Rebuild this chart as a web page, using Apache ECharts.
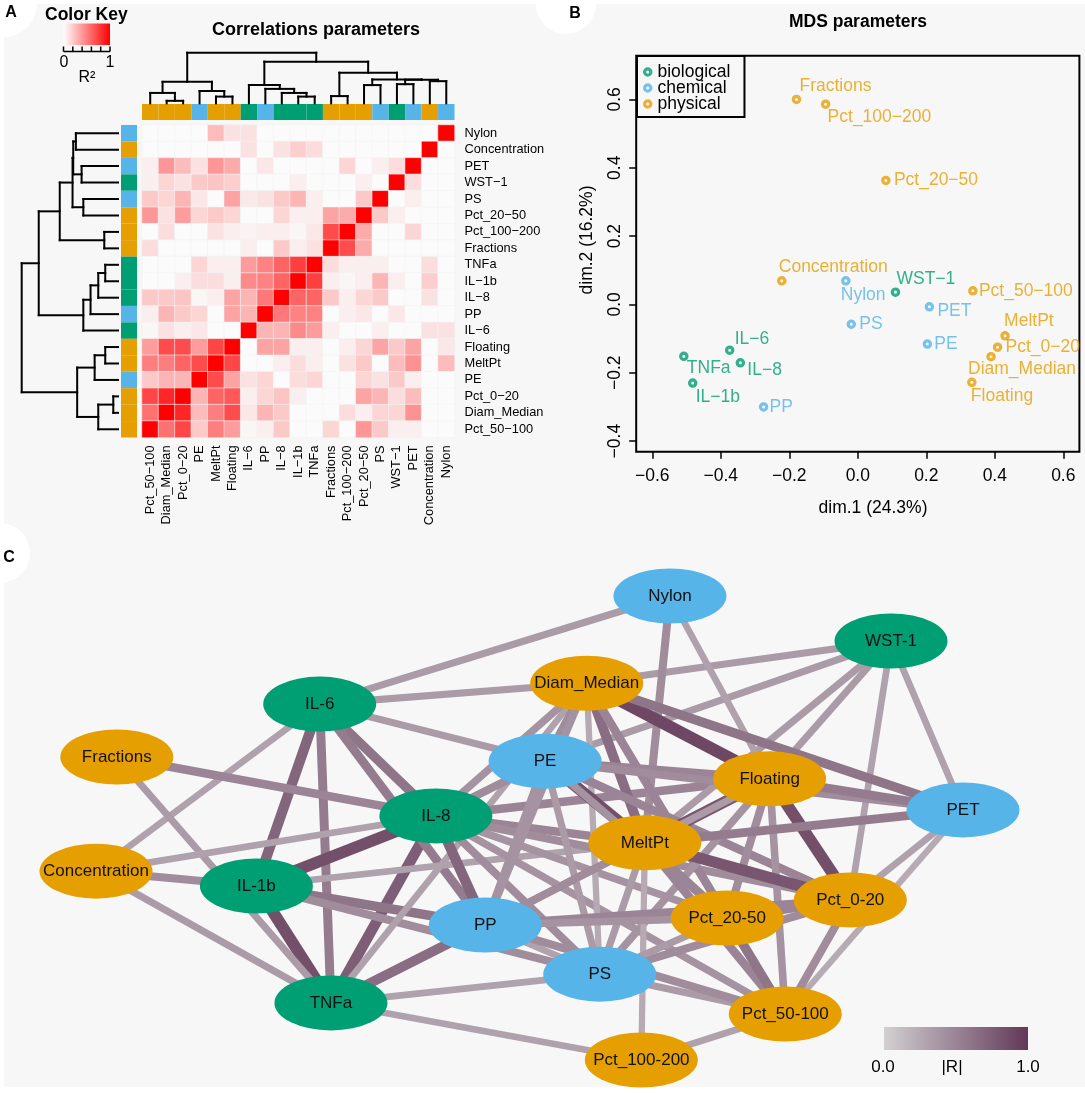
<!DOCTYPE html>
<html><head><meta charset="utf-8">
<script src="https://cdn.jsdelivr.net/npm/echarts@6/dist/echarts.min.js"></script>
<style>html,body{margin:0;padding:0;background:#fff;}#c{width:1085px;height:1093px;}</style>
</head><body><div id="c"></div>
<script>
// ---------------- DATA ----------------
const variables = ['Nylon','Concentration','PET','WST-1','PS','Pct_20-50','Pct_100-200','Fractions','TNFa','IL-1b','IL-8','PP','IL-6','Floating','MeltPt','PE','Pct_0-20','Diam_Median','Pct_50-100'];
const variableGroup = ['chemical','physical','chemical','biological','chemical','physical','physical','physical','biological','biological','biological','chemical','biological','physical','physical','chemical','physical','physical','physical'];
const groups = ['biological','chemical','physical'];
const columnOrder = variables.slice().reverse();

// R² values: rows = variables (top→bottom), columns = columnOrder (left→right)
const r2 = [
 [0,0,0,0,0.25,0.1,0.1,0,0,0,0,0,0,0,0,0,0,0,1],
 [0,0,0,0,0,0,0.1,0,0.1,0.18,0.12,0,0,0,0,0,0,1,0],
 [0.05,0.4,0.25,0.1,0.4,0.32,0,0.08,0,0,0,0,0.15,0,0.05,0.12,1,0,0],
 [0.05,0.15,0.1,0.2,0.22,0.18,0,0,0,0.05,0,0,0,0.05,0,1,0.12,0,0],
 [0.2,0.15,0.28,0.08,0,0.35,0.07,0.1,0.2,0.28,0.05,0,0,0.2,1,0,0.05,0,0],
 [0.4,0.1,0.38,0.15,0.2,0.15,0,0,0.15,0.05,0.05,0.35,0.32,1,0.2,0.05,0,0,0],
 [0,0.12,0,0,0.1,0.05,0.03,0.05,0.05,0.02,0.08,0.7,1,0.32,0,0,0.15,0,0],
 [0.12,0,0,0,0,0,0.05,0,0.2,0.05,0.1,1,0.7,0.32,0,0,0,0,0],
 [0,0,0,0.15,0.05,0.05,0.38,0.48,0.6,0.75,1,0.12,0.05,0.05,0.05,0,0,0.12,0],
 [0,0,0.05,0.12,0.12,0.05,0.45,0.48,0.6,1,0.75,0.05,0.02,0.05,0.28,0.05,0,0.18,0],
 [0.2,0.2,0.22,0.02,0.05,0.35,0.28,0.52,1,0.6,0.6,0.2,0.05,0.15,0.2,0,0,0.1,0],
 [0.05,0.28,0.2,0.15,0,0.35,0.28,1,0.52,0.48,0.48,0,0.05,0.08,0,0.08,0,0,0],
 [0.02,0.1,0.05,0.08,0,0,1,0.28,0.28,0.45,0.38,0.05,0,0,0.05,0,0,0.1,0.1],
 [0.38,0.7,0.7,0.38,0.72,1,0,0.35,0.35,0.05,0.05,0,0.05,0.15,0.35,0.2,0.35,0,0.08],
 [0.5,0.5,0.6,0.7,1,0.72,0,0,0.05,0.12,0.05,0,0.1,0.2,0,0.25,0.42,0,0.25],
 [0.2,0.28,0.28,1,0.7,0.35,0.1,0.15,0,0.12,0.15,0,0,0.15,0.1,0.2,0.05,0,0],
 [0.72,0.85,1,0.28,0.6,0.65,0.05,0.15,0.22,0.05,0,0,0,0.35,0.28,0.12,0.25,0,0],
 [0.55,1,0.85,0.25,0.5,0.7,0.08,0.28,0.2,0,0,0,0.12,0.05,0.15,0.15,0.42,0,0],
 [1,0.55,0.72,0.2,0.5,0.38,0.02,0.05,0.2,0,0,0.15,0,0.4,0.2,0.05,0.05,0,0]
];

// hierarchical clustering merges (hclust style): negative = leaf (row position+1), positive = earlier merge
const clusterMerges = [
 [-1,-2,0.875],[-3,-4,0.756],[1,2,0.93],[-5,-6,0.72],[3,4,0.944],[-7,-8,0.285],[5,6,1.21],
 [-9,-10,0.265],[8,-11,0.41],[9,-12,0.57],[10,-13,0.72],[7,11,1.646],
 [-14,-15,0.265],[13,-16,0.485],[-17,-18,0.098],[15,-19,0.41],[14,16,0.848],[12,17,2.0]
];

// MDS coordinates (same order as variables)
const mdsDim1 = [-0.035,-0.222,0.209,0.110,-0.019,0.082,-0.094,-0.179,-0.508,-0.482,-0.343,-0.275,-0.374,0.333,0.430,0.203,0.408,0.389,0.336];
const mdsDim2 = [0.069,0.069,-0.007,0.036,-0.058,0.363,0.586,0.600,-0.152,-0.230,-0.171,-0.300,-0.134,-0.228,-0.092,-0.116,-0.125,-0.153,0.040];
const mdsXTicks = [-0.6,-0.4,-0.2,0.0,0.2,0.4,0.6];
const mdsYTicks = [-0.4,-0.2,0.0,0.2,0.4,0.6];

// network layout (same order as variables)
const netX = [66.2,0,100,91.7,58.1,72.8,62.9,2.4,27.1,18.5,39.2,44.9,25.8,77.7,63.3,51.8,87.0,56.6,79.5];
const netY = [0,59.3,46.1,9.7,81.5,69.4,100,34.7,87.7,62.5,47.4,70.9,23.3,39.4,53.2,35.6,65.5,18.8,90.1];
const netEdges = [
 ['IL-6','IL-8',0.6],['IL-6','IL-1b',0.7],['IL-6','TNFa',0.55],['IL-1b','IL-8',0.85],['IL-1b','TNFa',0.85],['TNFa','IL-8',0.75],
 ['IL-6','Nylon',0.35],['IL-6','Diam_Median',0.35],['IL-6','PE',0.35],['IL-6','Concentration',0.3],['IL-6','PP',0.55],
 ['Fractions','IL-8',0.5],['Fractions','TNFa',0.35],['Concentration','IL-8',0.3],['Concentration','IL-1b',0.45],['Concentration','TNFa',0.35],
 ['IL-1b','PP',0.6],['IL-1b','PS',0.45],['IL-1b','MeltPt',0.3],['TNFa','PP',0.65],['TNFa','PS',0.3],['TNFa','Pct_100-200',0.3],['TNFa','Diam_Median',0.3],
 ['IL-8','PP',0.7],['IL-8','PE',0.45],['IL-8','Diam_Median',0.4],['IL-8','MeltPt',0.5],['IL-8','Floating',0.5],['IL-8','Pct_0-20',0.45],
 ['IL-8','Pct_20-50',0.4],['IL-8','PS',0.45],['IL-8','Pct_50-100',0.4],
 ['WST-1','Diam_Median',0.35],['WST-1','PE',0.35],['WST-1','MeltPt',0.35],['WST-1','Floating',0.35],['WST-1','Pct_0-20',0.3],['WST-1','PET',0.3],
 ['Nylon','MeltPt',0.45],['Nylon','Floating',0.3],
 ['Diam_Median','Floating',0.9],['Diam_Median','PET',0.6],['Diam_Median','MeltPt',0.65],['Diam_Median','PE',0.45],['Diam_Median','PS',0.25],
 ['Diam_Median','PP',0.4],['Diam_Median','Pct_20-50',0.5],
 ['PE','MeltPt',0.85],['PE','Floating',0.5],['PE','PET',0.45],['PE','PP',0.4],['PE','Pct_0-20',0.5],['PE','Pct_20-50',0.4],['PE','PS',0.35],
 ['Floating','PET',0.55],['Floating','Pct_0-20',0.85],['Floating','MeltPt',0.8],['Floating','Pct_20-50',0.45],['Floating','PS',0.4],
 ['Floating','Pct_50-100',0.4],['Floating','PP',0.35],
 ['MeltPt','PET',0.55],['MeltPt','Pct_0-20',0.8],['MeltPt','Pct_20-50',0.5],['MeltPt','Pct_100-200',0.25],['MeltPt','PP',0.45],
 ['MeltPt','Pct_50-100',0.5],['MeltPt','PS',0.35],
 ['PET','Pct_0-20',0.3],['PET','Pct_50-100',0.25],
 ['Pct_0-20','Pct_50-100',0.45],['Pct_0-20','Pct_20-50',0.5],['Pct_0-20','PS',0.45],['Pct_0-20','PP',0.5],
 ['Pct_20-50','PP',0.4],['Pct_20-50','PS',0.35],['Pct_20-50','Pct_50-100',0.6],
 ['PS','Pct_50-100',0.35],['PS','PP',0.3],['Pct_100-200','Pct_50-100',0.3],['PP','Pct_50-100',0.45]
];

// ---------------- STYLE ----------------
const FONT = '"Liberation Sans", Arial, Helvetica, sans-serif';
const groupColor = {biological:'#009E73', chemical:'#56B4E9', physical:'#E69F00'};
const heatLow = '#fbfbfb', heatHigh = '#ff0000';
const edgeLow = [210,208,209], edgeHigh = [98,56,88];
const PANEL_BG = '#f7f7f7';
const RING = 'path://M10,0A10,10,0,1,1,-10,0A10,10,0,1,1,10,0ZM3.2,0A3.2,3.2,0,1,0,-3.2,0A3.2,3.2,0,1,0,3.2,0Z';
// label offsets for MDS text (dx, dy from point, text left-aligned)
const mdsLabelOffset = {
 'Nylon':[-5,14],'Concentration':[-3,-14],'PET':[8,4],'WST-1':[1,-13],'PS':[8,0],'Pct_20-50':[8,0],'Pct_100-200':[2,13],
 'Fractions':[3,-13],'TNFa':[3,12],'IL-1b':[3,14],'IL-8':[7,7],'PP':[6,0],'IL-6':[5,-11],'Floating':[-1,14],
 'MeltPt':[-1,-15],'PE':[7,0],'Pct_0-20':[8,0],'Diam_Median':[-23,12],'Pct_50-100':[6,0]
};
const rMinus = s => s.replace(/-/g,'\u2212');
function edgeColor(w){
  return 'rgb(' + edgeLow.map((v,i)=>Math.round(v+(edgeHigh[i]-v)*w)).join(',') + ')';
}

// ---------------- BUILD ----------------
const n = variables.length;
const heatData = [];
for (let r=0;r<n;r++) for (let c=0;c<n;c++) heatData.push([c, r, r2[r][c]]);

function dendroSegments(merges){
  const pos=[], ht=[], segs=[];
  const info = ref => ref<0 ? {p:-ref-1,h:0} : {p:pos[ref-1],h:ht[ref-1]};
  merges.forEach((m,i)=>{
    const A=info(m[0]), B=info(m[1]), h=m[2];
    segs.push([A.h,A.p,h,A.p]); segs.push([B.h,B.p,h,B.p]); segs.push([h,A.p,h,B.p]);
    pos[i]=(A.p+B.p)/2; ht[i]=h;
  });
  return segs;
}
const rowSegs = dendroSegments(clusterMerges);               // [h1,pos1,h2,pos2]
const colSegs = rowSegs.map(s=>[n-1-s[1], s[0], n-1-s[3], s[2]]); // [pos1,h1,pos2,h2] for reversed columns
const maxH = 2.0;

const lineRender = (params, api) => {
  const p1 = api.coord([api.value(0), api.value(1)]);
  const p2 = api.coord([api.value(2), api.value(3)]);
  return {type:'line', shape:{x1:p1[0],y1:p1[1],x2:p2[0],y2:p2[1]}, style:{stroke:'#000', lineWidth:2, lineCap:'square'}};
};

const topBarData = columnOrder.map((v,i)=>[i, groups.indexOf(variableGroup[variables.indexOf(v)])]);
const leftBarData = variables.map((v,i)=>[i, groups.indexOf(variableGroup[i])]);

const mdsSeries = groups.map(g => ({
  type:'scatter', name:g, xAxisIndex:5, yAxisIndex:5,
  symbol:RING, symbolSize:9.5,
  itemStyle:{color:groupColor[g]},
  label:{show:true, position:'inside', align:'left', verticalAlign:'middle', fontSize:17.5, fontFamily:FONT, color:groupColor[g],
         formatter:p=>rMinus(p.name)},
  emphasis:{disabled:true},
  data: variables.map((v,i)=>({v,i})).filter(o=>variableGroup[o.i]===g).map(o=>({
    name:o.v, value:[mdsDim1[o.i], mdsDim2[o.i]],
    label:{offset: mdsLabelOffset[o.v]}
  }))
}));

const netNodes = variables.map((v,i)=>({name:v, value:[netX[i], netY[i]], itemStyle:{color:groupColor[variableGroup[i]]}}));
const netLinks = netEdges.map(e=>({source:e[0], target:e[1], value:e[2], lineStyle:{width:4+9*e[2], color:edgeColor(e[2])}}));

const gradStops = [];
for (let k=0;k<=10;k++) gradStops.push({offset:k/10, color:edgeColor(k/10)});

const txt = (x,y,text,opt) => Object.assign({type:'text', x:x, y:y, style:Object.assign({text:text, fontFamily:FONT, fontSize:17, fill:'#000', align:'center', verticalAlign:'middle'}, opt||{})});

const graphics = [
  {type:'rect', z:-10, shape:{x:4,y:4,width:1081,height:1083}, style:{fill:PANEL_BG}},
  {type:'circle', z:-9, shape:{cx:4,cy:4,r:33}, style:{fill:'#fff'}},
  {type:'circle', z:-9, shape:{cx:566,cy:4,r:30}, style:{fill:'#fff'}},
  {type:'circle', z:-9, shape:{cx:0,cy:553,r:30}, style:{fill:'#fff'}},
  txt(11,13,'A',{fontWeight:'bold',fontSize:16}),
  txt(575,14,'B',{fontWeight:'bold',fontSize:16}),
  txt(9,558,'C',{fontWeight:'bold',fontSize:16}),
  // color key
  txt(45,15,'Color Key',{fontWeight:'bold',fontSize:17.5,align:'left'}),
  {type:'rect', shape:{x:63.5,y:23.5,width:46.5,height:21.5},
   style:{fill:new echarts.graphic.LinearGradient(0,0,1,0,[{offset:0,color:'#ffffff'},{offset:1,color:heatHigh}])}},
  {type:'line', shape:{x1:63.5,y1:51.5,x2:110,y2:51.5}, style:{stroke:'#000',lineWidth:1.5}},
  ...[0,1,2,3,4,5].map(k=>({type:'line', shape:{x1:63.5+k*9.3,y1:46.5,x2:63.5+k*9.3,y2:51.5}, style:{stroke:'#000',lineWidth:1.5}})),
  txt(64,63,'0',{fontSize:16}),
  txt(110,63,'1',{fontSize:16}),
  txt(87,78,'R\u00b2',{fontSize:16}),
  txt(316,30,'Correlations parameters',{fontWeight:'bold',fontSize:18}),
  txt(858,22,'MDS parameters',{fontWeight:'bold',fontSize:17.5}),
  txt(873,508,'dim.1 (24.3%)',{fontSize:17.5}),
  Object.assign(txt(0,0,'dim.2 (16.2%)',{fontSize:17.5}),{x:587,y:240,rotation:Math.PI/2}),
  // |R| colour bar
  {type:'rect', shape:{x:884,y:1027,width:144,height:23}, style:{fill:new echarts.graphic.LinearGradient(0,0,1,0,gradStops)}},
  txt(883,1067,'0.0',{fontSize:17}),
  txt(952,1067,'|R|',{fontSize:17}),
  txt(1028,1067,'1.0',{fontSize:17})
];

const hidden = {show:false};
const option = {
  animation:false,
  textStyle:{fontFamily:FONT},
  graphic: graphics,
  visualMap:[{type:'continuous', show:false, min:0, max:1, dimension:2, seriesIndex:0, inRange:{color:[heatLow, heatHigh]}}],
  legend:{
    data:groups, orient:'vertical', left:637, top:56, itemWidth:9.5, itemHeight:9.5, itemGap:-2,
    padding:[7,14,4,6], borderColor:'#000', borderWidth:2, backgroundColor:'transparent',
    textStyle:{fontSize:17.5, lineHeight:15.5, color:'#000', fontFamily:FONT}
  },
  grid:[
    {left:142, top:125, width:312.5, height:312.5, outerBoundsMode:'none'},
    {left:142, top:104, width:312.5, height:16, outerBoundsMode:'none'},
    {left:121, top:125, width:16, height:312.5, outerBoundsMode:'none'},
    {left:142, top:52.7, width:312.5, height:50.6, outerBoundsMode:'none'},
    {left:21.7, top:125, width:96.3, height:312.5, outerBoundsMode:'none'},
    {left:636.2, top:55.7, width:443.2, height:396, show:true, borderColor:'#000', borderWidth:2, outerBoundsMode:'none'},
    {left:96, top:596, width:867, height:464, outerBoundsMode:'none'}
  ],
  xAxis:[
    {type:'category', gridIndex:0, data:columnOrder, position:'bottom', axisLine:hidden, axisTick:hidden, splitLine:hidden,
     axisLabel:{rotate:90, margin:8, fontSize:12.8, color:'#000', fontFamily:FONT, interval:0, formatter:rMinus}},
    {type:'value', gridIndex:1, min:-0.5, max:n-0.5, show:false},
    {type:'value', gridIndex:2, min:0, max:1, show:false},
    {type:'value', gridIndex:3, min:-0.5, max:n-0.5, show:false},
    {type:'value', gridIndex:4, min:0, max:maxH, inverse:true, show:false},
    {type:'value', gridIndex:5, min:-0.647, max:0.647, position:'bottom', splitLine:hidden, axisLine:{show:false, onZero:false},
     axisTick:{show:true, length:7, lineStyle:{color:'#000', width:1.5}, customValues:mdsXTicks},
     axisLabel:{customValues:mdsXTicks, margin:15, fontSize:17.5, color:'#000', fontFamily:FONT, formatter:v=>rMinus(v.toFixed(1))}},
    {type:'value', gridIndex:6, min:0, max:100, show:false}
  ],
  yAxis:[
    {type:'category', gridIndex:0, data:variables, inverse:true, position:'right', axisLine:hidden, axisTick:hidden, splitLine:hidden,
     axisLabel:{margin:10, fontSize:12.8, color:'#000', fontFamily:FONT, interval:0, formatter:rMinus}},
    {type:'value', gridIndex:1, min:0, max:1, show:false},
    {type:'value', gridIndex:2, min:-0.5, max:n-0.5, inverse:true, show:false},
    {type:'value', gridIndex:3, min:0, max:maxH, show:false},
    {type:'value', gridIndex:4, min:-0.5, max:n-0.5, inverse:true, show:false},
    {type:'value', gridIndex:5, min:-0.431, max:0.728, position:'left', splitLine:hidden, axisLine:{show:false, onZero:false},
     axisTick:{show:true, length:7, lineStyle:{color:'#000', width:1.5}, customValues:mdsYTicks},
     axisLabel:{customValues:mdsYTicks, rotate:90, margin:12, fontSize:17.5, color:'#000', fontFamily:FONT, formatter:v=>rMinus(v.toFixed(1))}},
    {type:'value', gridIndex:6, min:0, max:100, inverse:true, show:false}
  ],
  series:[
    {type:'heatmap', xAxisIndex:0, yAxisIndex:0, data:heatData, itemStyle:{borderColor:'#f4f4f4', borderWidth:0.6}, emphasis:{disabled:true}},
    {type:'custom', xAxisIndex:1, yAxisIndex:1, data:topBarData, renderItem:(p,api)=>{
      const a=api.coord([api.value(0)-0.5,1]), b=api.coord([api.value(0)+0.5,0]);
      return {type:'rect', shape:{x:a[0],y:a[1],width:b[0]-a[0],height:b[1]-a[1]}, style:{fill:groupColor[groups[api.value(1)]]}};
    }},
    {type:'custom', xAxisIndex:2, yAxisIndex:2, data:leftBarData.map(d=>[0,d[0],d[1]]), encode:{x:0,y:1}, renderItem:(p,api)=>{
      const a=api.coord([0,api.value(1)-0.5]), b=api.coord([1,api.value(1)+0.5]);
      return {type:'rect', shape:{x:a[0],y:a[1],width:b[0]-a[0],height:b[1]-a[1]}, style:{fill:groupColor[groups[api.value(2)]]}};
    }},
    {type:'custom', xAxisIndex:3, yAxisIndex:3, data:colSegs, encode:{x:[0,2],y:[1,3]}, renderItem:lineRender, clip:false},
    {type:'custom', xAxisIndex:4, yAxisIndex:4, data:rowSegs, encode:{x:[0,2],y:[1,3]}, renderItem:lineRender, clip:false},
    ...mdsSeries,
    {type:'graph', coordinateSystem:'cartesian2d', xAxisIndex:6, yAxisIndex:6, layout:'none',
     symbol:'circle', symbolSize:[113,55], data:netNodes, links:netLinks,
     label:{show:true, position:'inside', fontSize:17, color:'#111', fontFamily:FONT},
     lineStyle:{opacity:1, curveness:0}, emphasis:{disabled:true}}
  ]
};
const chart = echarts.init(document.getElementById('c'));
chart.setOption(option);
</script></body></html>
